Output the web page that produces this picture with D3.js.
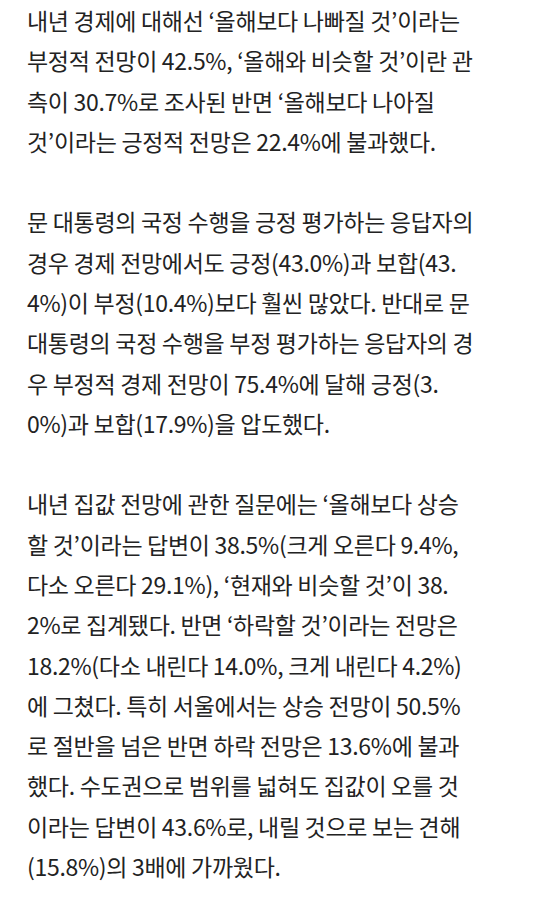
<!DOCTYPE html>
<html><head><meta charset="utf-8">
<script src="https://cdn.jsdelivr.net/npm/d3@7"></script>
<style>body{margin:0;background:#fff}</style>
</head><body>
<script>
const paragraph1 = [
"내년 경제에 대해선 ‘올해보다 나빠질 것’이라는",
"부정적 전망이 42.5%, ‘올해와 비슷할 것’이란 관",
"측이 30.7%로 조사된 반면 ‘올해보다 나아질",
"것’이라는 긍정적 전망은 22.4%에 불과했다."];
const paragraph2 = [
"문 대통령의 국정 수행을 긍정 평가하는 응답자의",
"경우 경제 전망에서도 긍정(43.0%)과 보합(43.",
"4%)이 부정(10.4%)보다 훨씬 많았다. 반대로 문",
"대통령의 국정 수행을 부정 평가하는 응답자의 경",
"우 부정적 경제 전망이 75.4%에 달해 긍정(3.",
"0%)과 보합(17.9%)을 압도했다."];
const paragraph3 = [
"내년 집값 전망에 관한 질문에는 ‘올해보다 상승",
"할 것’이라는 답변이 38.5%(크게 오른다 9.4%,",
"다소 오른다 29.1%), ‘현재와 비슷할 것’이 38.",
"2%로 집계됐다. 반면 ‘하락할 것’이라는 전망은",
"18.2%(다소 내린다 14.0%, 크게 내린다 4.2%)",
"에 그쳤다. 특히 서울에서는 상승 전망이 50.5%",
"로 절반을 넘은 반면 하락 전망은 13.6%에 불과",
"했다. 수도권으로 범위를 넓혀도 집값이 오를 것",
"이라는 답변이 43.6%로, 내릴 것으로 보는 견해",
"(15.8%)의 3배에 가까웠다."];

const rows = [...paragraph1, "", ...paragraph2, "", ...paragraph3];
const W = 540, H = 898;
const svg = d3.select("body").append("svg").attr("width", W).attr("height", H);
const y = d3.scaleLinear().domain([0, rows.length - 1]).range([20, 866]);
const t = svg.selectAll("text").data(rows).join("text")
  .attr("x", 27).attr("y", (d, i) => y(i))
  .attr("dominant-baseline", "central")
  .attr("font-family", "'Noto Sans CJK KR','Noto Sans',sans-serif")
  .attr("font-size", 23).attr("fill", "#222")
  .attr("letter-spacing", -0.3)
  .text(d => d);
// keep lines inside the text column
t.each(function() {
  const w = this.getComputedTextLength();
  if (w > 486) d3.select(this).attr("textLength", 486).attr("lengthAdjust", "spacingAndGlyphs");
});
</script>
</body></html>
